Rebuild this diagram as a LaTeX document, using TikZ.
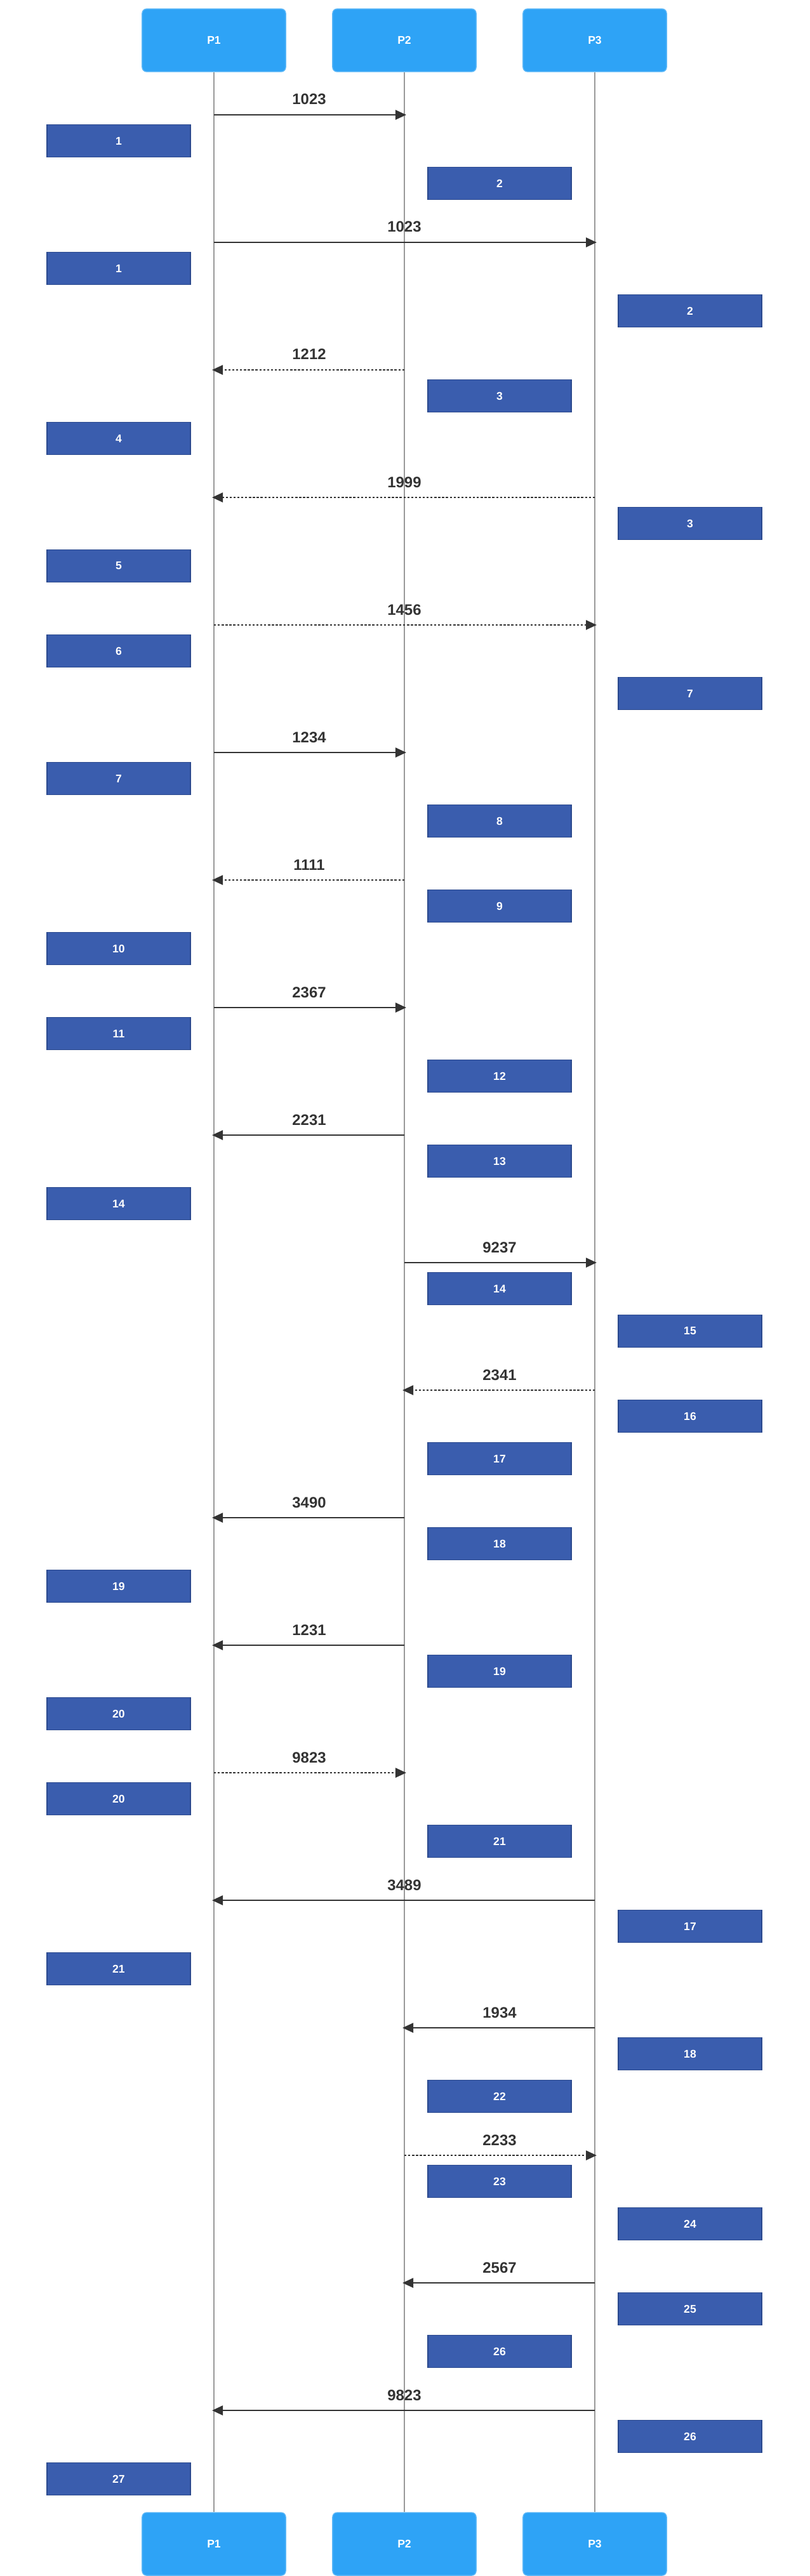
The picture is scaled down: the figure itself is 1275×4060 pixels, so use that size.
\documentclass[tikz,border=0pt]{standalone}
\usepackage{fontspec}
\setmainfont{Liberation Sans}
\usetikzlibrary{arrows.meta}
\definecolor{partblue}{HTML}{2EA3F6}
\definecolor{partedge}{HTML}{5DB8F8}
\definecolor{noteblue}{HTML}{3A5DAE}
\definecolor{noteedge}{HTML}{2C4A8E}
\definecolor{lifegray}{HTML}{9A9A9A}
\definecolor{msgdark}{HTML}{333333}

\begin{document}
\begin{tikzpicture}[x=0.01cm, y=-0.01cm,
    actor/.style={rectangle, rounded corners=2pt, draw=partedge, fill=partblue,
        minimum width=2.26cm, minimum height=0.99cm, inner sep=0pt,
        text=white, font=\fontsize{5}{6}\selectfont\bfseries},
    note/.style={rectangle, draw=noteedge, line width=0.5pt, fill=noteblue,
        minimum width=2.26cm, minimum height=0.51cm, inner sep=0pt,
        text=white, font=\fontsize{5}{6}\selectfont\bfseries},
    lifeline/.style={draw=lifegray, line width=0.35pt},
    msg/.style={draw=msgdark, line width=0.7pt,
        -{Triangle[length=0.17cm, width=0.15cm]}, shorten >=-0.03cm},
    reply/.style={msg, dash pattern=on 0.95pt off 0.78pt},
    lbl/.style={anchor=base, yshift=0.16cm, text=msgdark,
        font=\fontsize{6.8}{8}\selectfont\bfseries}
]
    \useasboundingbox (0,0) rectangle (1275,4060);

    % participants, top and bottom
    \node[actor] (p1t) at (337,63.5) {P1};
    \node[actor] (p2t) at (637,63.5) {P2};
    \node[actor] (p3t) at (937,63.5) {P3};
    \node[actor] (p1b) at (337,4009.5) {P1};
    \node[actor] (p2b) at (637,4009.5) {P2};
    \node[actor] (p3b) at (937,4009.5) {P3};
    \draw[lifeline] (p1t) -- (p1b);
    \draw[lifeline] (p2t) -- (p2b);
    \draw[lifeline] (p3t) -- (p3b);

    % message end points
    \coordinate (m1s) at (337,181);   \coordinate (m1e) at (637,181);
    \coordinate (m2s) at (337,382);   \coordinate (m2e) at (937,382);
    \coordinate (m3s) at (637,583);   \coordinate (m3e) at (337,583);
    \coordinate (m4s) at (937,784);   \coordinate (m4e) at (337,784);
    \coordinate (m5s) at (337,985);   \coordinate (m5e) at (937,985);
    \coordinate (m6s) at (337,1186);  \coordinate (m6e) at (637,1186);
    \coordinate (m7s) at (637,1387);  \coordinate (m7e) at (337,1387);
    \coordinate (m8s) at (337,1588);  \coordinate (m8e) at (637,1588);
    \coordinate (m9s) at (637,1789);  \coordinate (m9e) at (337,1789);
    \coordinate (m10s) at (637,1990); \coordinate (m10e) at (937,1990);
    \coordinate (m11s) at (937,2191); \coordinate (m11e) at (637,2191);
    \coordinate (m12s) at (637,2392); \coordinate (m12e) at (337,2392);
    \coordinate (m13s) at (637,2593); \coordinate (m13e) at (337,2593);
    \coordinate (m14s) at (337,2794); \coordinate (m14e) at (637,2794);
    \coordinate (m15s) at (937,2995); \coordinate (m15e) at (337,2995);
    \coordinate (m16s) at (937,3196); \coordinate (m16e) at (637,3196);
    \coordinate (m17s) at (637,3397); \coordinate (m17e) at (937,3397);
    \coordinate (m18s) at (937,3598); \coordinate (m18e) at (637,3598);
    \coordinate (m19s) at (937,3799); \coordinate (m19e) at (337,3799);

    % messages
    \draw[msg] (m1s) -- node[lbl] {1023} (m1e);
    \draw[msg] (m2s) -- node[lbl] {1023} (m2e);
    \draw[reply] (m3s) -- node[lbl] {1212} (m3e);
    \draw[reply] (m4s) -- node[lbl] {1999} (m4e);
    \draw[reply] (m5s) -- node[lbl] {1456} (m5e);
    \draw[msg] (m6s) -- node[lbl] {1234} (m6e);
    \draw[reply] (m7s) -- node[lbl] {1111} (m7e);
    \draw[msg] (m8s) -- node[lbl] {2367} (m8e);
    \draw[msg] (m9s) -- node[lbl] {2231} (m9e);
    \draw[msg] (m10s) -- node[lbl] {9237} (m10e);
    \draw[reply] (m11s) -- node[lbl] {2341} (m11e);
    \draw[msg] (m12s) -- node[lbl] {3490} (m12e);
    \draw[msg] (m13s) -- node[lbl] {1231} (m13e);
    \draw[reply] (m14s) -- node[lbl] {9823} (m14e);
    \draw[msg] (m15s) -- node[lbl] {3489} (m15e);
    \draw[msg] (m16s) -- node[lbl] {1934} (m16e);
    \draw[reply] (m17s) -- node[lbl] {2233} (m17e);
    \draw[msg] (m18s) -- node[lbl] {2567} (m18e);
    \draw[msg] (m19s) -- node[lbl] {9823} (m19e);

    % notes
    \node[note] (n1) at (187,222) {1};
    \node[note] (n2) at (787,289) {2};
    \node[note] (n3) at (187,423) {1};
    \node[note] (n4) at (1087,490) {2};
    \node[note] (n5) at (787,624) {3};
    \node[note] (n6) at (187,691) {4};
    \node[note] (n7) at (1087,825) {3};
    \node[note] (n8) at (187,892) {5};
    \node[note] (n9) at (187,1026) {6};
    \node[note] (n10) at (1087,1093) {7};
    \node[note] (n11) at (187,1227) {7};
    \node[note] (n12) at (787,1294) {8};
    \node[note] (n13) at (787,1428) {9};
    \node[note] (n14) at (187,1495) {10};
    \node[note] (n15) at (187,1629) {11};
    \node[note] (n16) at (787,1696) {12};
    \node[note] (n17) at (787,1830) {13};
    \node[note] (n18) at (187,1897) {14};
    \node[note] (n19) at (787,2031) {14};
    \node[note] (n20) at (1087,2098) {15};
    \node[note] (n21) at (1087,2232) {16};
    \node[note] (n22) at (787,2299) {17};
    \node[note] (n23) at (787,2433) {18};
    \node[note] (n24) at (187,2500) {19};
    \node[note] (n25) at (787,2634) {19};
    \node[note] (n26) at (187,2701) {20};
    \node[note] (n27) at (187,2835) {20};
    \node[note] (n28) at (787,2902) {21};
    \node[note] (n29) at (1087,3036) {17};
    \node[note] (n30) at (187,3103) {21};
    \node[note] (n31) at (1087,3237) {18};
    \node[note] (n32) at (787,3304) {22};
    \node[note] (n33) at (787,3438) {23};
    \node[note] (n34) at (1087,3505) {24};
    \node[note] (n35) at (1087,3639) {25};
    \node[note] (n36) at (787,3706) {26};
    \node[note] (n37) at (1087,3840) {26};
    \node[note] (n38) at (187,3907) {27};
\end{tikzpicture}
\end{document}
